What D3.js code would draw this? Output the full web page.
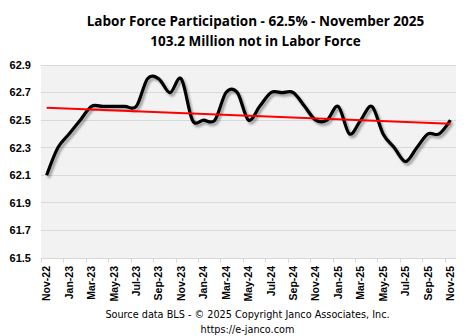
<!DOCTYPE html>
<html><head><meta charset="utf-8">
<script src="https://cdn.jsdelivr.net/npm/d3@7"></script>
<style>body{margin:0;background:#fff}svg{display:block}</style>
</head><body><svg id="c" width="473" height="336"></svg>
<script>
const months = ["Nov-22","Dec-22","Jan-23","Feb-23","Mar-23","Apr-23","May-23","Jun-23","Jul-23","Aug-23","Sep-23","Oct-23",
"Nov-23","Dec-23","Jan-24","Feb-24","Mar-24","Apr-24","May-24","Jun-24","Jul-24","Aug-24","Sep-24","Oct-24",
"Nov-24","Dec-24","Jan-25","Feb-25","Mar-25","Apr-25","May-25","Jun-25","Jul-25","Aug-25","Sep-25","Oct-25","Nov-25"];
const participation = [62.1,62.3,62.4,62.5,62.6,62.6,62.6,62.6,62.6,62.8,62.8,62.7,
62.8,62.5,62.5,62.5,62.7,62.7,62.5,62.6,62.7,62.7,62.7,62.6,
62.5,62.5,62.6,62.4,62.5,62.6,62.4,62.3,62.2,62.3,62.4,62.4,62.5];
const yTicks = [61.5,61.7,61.9,62.1,62.3,62.5,62.7,62.9];
const titleLines = ["Labor Force Participation - 62.5% - November 2025","103.2 Million not in Labor Force"];
const footerLines = ["Source data BLS - \u00a9 2025 Copyright Janco Associates, Inc.","https://e-janco.com"];

const svg = d3.select("#c");
const L=41,R=456,T=65,B=258;
const x = d3.scaleBand().domain(months).range([L,R]).padding(0);
const y = d3.scaleLinear().domain([61.5,62.9]).range([B,T]);
const cx = d => x(d)+x.bandwidth()/2;

const defs = svg.append("defs");
const f = defs.append("filter").attr("id","sh").attr("x","-10%").attr("y","-10%").attr("width","120%").attr("height","130%");
f.append("feDropShadow").attr("dx",2).attr("dy",2.5).attr("stdDeviation",1.3).attr("flood-color","#000").attr("flood-opacity",0.35);

svg.append("rect").attr("x",L).attr("y",T).attr("width",R-L).attr("height",B-T).attr("fill","#f2f2f2");

// grid
svg.append("g").selectAll("line").data(yTicks).join("line")
  .attr("x1",L).attr("x2",R).attr("y1",d=>y(d)).attr("y2",d=>y(d))
  .attr("stroke","#d9d9d9").attr("stroke-width",1).attr("shape-rendering","crispEdges");

// y labels
svg.append("g").selectAll("text").data(yTicks).join("text")
  .attr("x",31).attr("y",d=>y(d)).attr("dy","0.35em").attr("text-anchor","end")
  .attr("font-family","Liberation Sans, Arial, sans-serif").attr("font-weight","bold").attr("font-size",11)
  .attr("fill","#000").text(d=>d.toFixed(1));

// x axis ticks every 2 categories at band boundaries
const tickCats = months.filter((m,i)=>i%2===0);
svg.append("g").selectAll("line").data(tickCats).join("line")
  .attr("x1",d=>Math.round(x(d))+0.5).attr("x2",d=>Math.round(x(d))+0.5).attr("y1",B).attr("y2",B+5)
  .attr("stroke","#d9d9d9");
svg.append("line").attr("x1",L).attr("x2",R).attr("y1",B+0.5).attr("y2",B+0.5).attr("stroke","#d9d9d9");

svg.append("g").selectAll("text").data(tickCats).join("text")
  .attr("transform",d=>`translate(${cx(d)},${B+8}) rotate(-90)`)
  .attr("dy","0.35em").attr("text-anchor","end")
  .attr("font-family","Liberation Sans, Arial, sans-serif").attr("font-weight","bold").attr("font-size",10.5)
  .attr("fill","#000").text(d=>d);

// trend line (least squares)
const n = participation.length;
const xm = d3.mean(d3.range(n)), ym = d3.mean(participation);
const sxy = d3.sum(participation,(v,i)=>(i-xm)*(v-ym));
const sxx = d3.sum(d3.range(n),i=>(i-xm)*(i-xm));
const slope = sxy/sxx, icpt = ym - slope*xm;

// data line
const line = d3.line().x((d,i)=>cx(months[i])).y(d=>y(d)).curve(d3.curveCardinal.tension(0));
svg.append("path").datum(participation).attr("d",line).attr("fill","none")
  .attr("stroke","#000").attr("stroke-width",3.2).attr("stroke-linejoin","round").attr("filter","url(#sh)");

svg.append("line").attr("x1",cx(months[0])).attr("x2",cx(months[n-1]))
  .attr("y1",y(icpt)).attr("y2",y(icpt+slope*(n-1)))
  .attr("stroke","#ff0000").attr("stroke-width",2);

// titles
svg.append("g").selectAll("text").data(titleLines).join("text")
  .attr("x",255.5).attr("y",(d,i)=>26+i*19.5).attr("text-anchor","middle")
  .attr("font-family","Open Sans, Liberation Sans, sans-serif").attr("font-weight","bold").attr("font-size",13.5)
  .attr("fill","#000").text(d=>d);

svg.append("g").selectAll("text").data(footerLines).join("text")
  .attr("x",247.5).attr("y",(d,i)=>318+i*15).attr("text-anchor","middle")
  .attr("font-family","DejaVu Sans, Verdana, sans-serif").attr("font-size",9.7)
  .attr("fill","#000").text(d=>d);
</script></body></html>
